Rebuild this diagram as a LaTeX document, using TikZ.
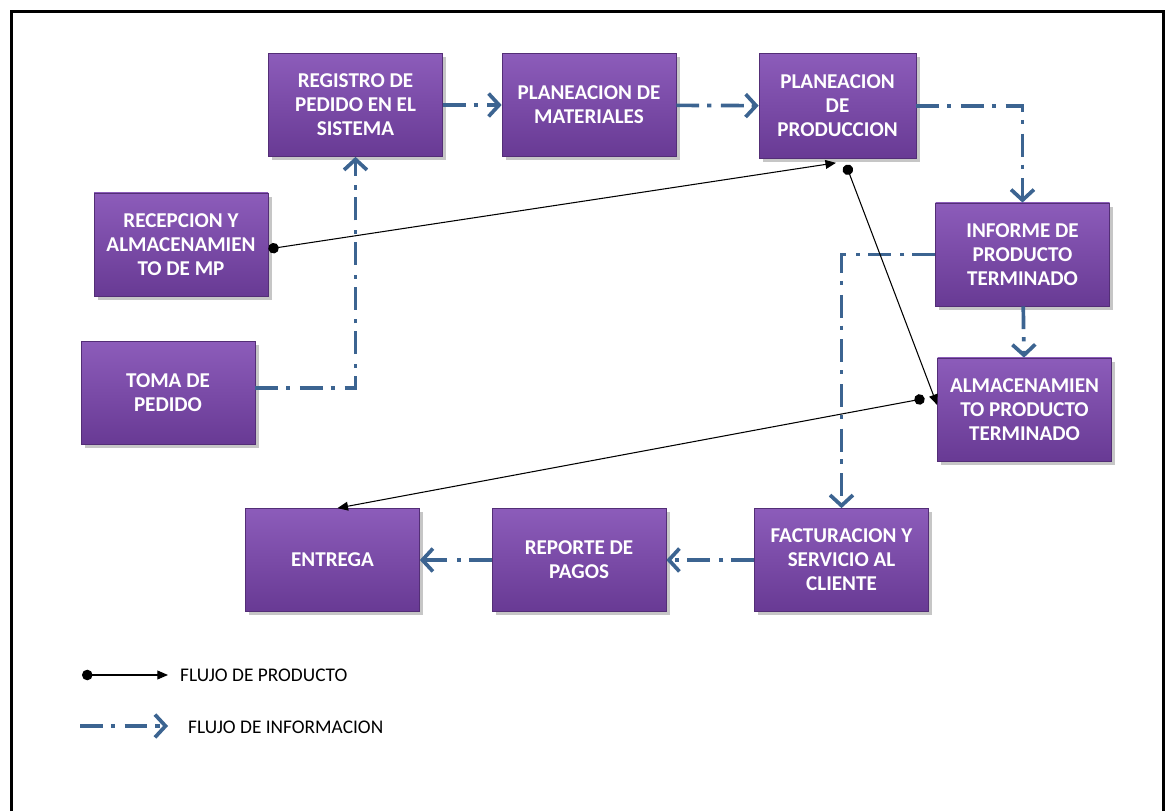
\documentclass[tikz,border=0pt]{standalone}
\usepackage{fontspec}
\setmainfont{Carlito}
\usetikzlibrary{arrows.meta,shadows}

\definecolor{infoblue}{RGB}{60,100,145}
\definecolor{boxtop}{RGB}{140,92,186}
\definecolor{boxbottom}{RGB}{104,58,148}

\begin{document}
\begin{tikzpicture}

      \useasboundingbox (0,0) rectangle (23.32,16.22);
      \draw[line width=1.6pt] (0.23,0) -- (0.23,15.99) -- (23.27,15.99) -- (23.27,0);

      \begin{scope}[every node/.style={rectangle,minimum width=3.48cm,minimum height=2.06cm,
          top color=boxtop,bottom color=boxbottom,draw=boxbottom!80!black,
          drop shadow={shadow xshift=2pt,shadow yshift=-2pt,opacity=0.45},
          text=white,align=center,font=\fontsize{12}{13.7}\selectfont\bfseries}]
        \node (1)  at (7.11,14.12)  {REGISTRO DE\\PEDIDO EN EL\\SISTEMA};
        \node (2)  at (11.78,14.12) {PLANEACION DE\\MATERIALES};
        \node[minimum width=3.14cm,minimum height=2.1cm] (3)  at (16.75,14.10) {PLANEACION\\DE\\PRODUCCION};
        \node (4)  at (3.62,11.33)  {RECEPCION Y\\ALMACENAMIEN\\TO DE MP};
        \node (5)  at (3.36,8.36)   {TOMA DE\\PEDIDO};
        \node (6)  at (20.45,11.13) {INFORME DE\\PRODUCTO\\TERMINADO};
        \node (7)  at (20.49,8.03)  {ALMACENAMIEN\\TO PRODUCTO\\TERMINADO};
        \node (8)  at (16.83,5.02)  {FACTURACION Y\\SERVICIO AL\\CLIENTE};
        \node (9)  at (11.58,5.02)  {REPORTE DE\\PAGOS};
        \node (10) at (6.65,5.02)   {ENTREGA};
      \end{scope}

      % flujo de informacion
      \begin{scope}[every edge/.style={draw,infoblue,line width=2.1pt,
          dash pattern=on 13pt off 4.5pt on 2.4pt off 5.5pt,
          -{Straight Barb[length=6pt,width=13pt]}},
          elbow/.style={to path={-| (\tikztotarget)}}]
        \path (1)  edge (2);
        \path (2)  edge (3);
        \path (3)  edge[elbow] (6);
        \path (6)  edge ([xshift=0.03cm]6.south |- 7.north);
        \path (6)  edge[elbow] (8);
        \path (8)  edge (9);
        \path (9)  edge (10);
        \path ([yshift=0.1cm]5.east) edge[elbow] (1);
      \end{scope}

      % flujo de producto
      \begin{scope}[every edge/.style={draw,black,line width=0.6pt,
          {Circle[length=6pt]}-{Triangle[length=6pt,width=5pt]}}]
        \path ([yshift=-0.09cm]4.east)  edge ([yshift=-0.08cm,xshift=-0.03cm]3.south);
        \path ([yshift=-0.12cm,xshift=0.17cm]3.south) edge ([yshift=0.09cm]7.west);
        \path ([xshift=-0.25cm,yshift=0.22cm]7.west) edge ([xshift=0.1cm]10.north);
      \end{scope}

      % leyenda
      \coordinate (p1) at (1.64,2.72);
      \coordinate (p2) at (3.36,2.72);
      \coordinate (i1) at (1.60,1.70);
      \coordinate (i2) at (3.36,1.70);
      \path (p1) edge[draw,black,line width=0.6pt,{Circle[length=6pt]}-{Triangle[length=6pt,width=5pt]}] (p2);
      \path (i1) edge[draw,infoblue,line width=2.1pt,dash pattern=on 13pt off 4.5pt on 2.4pt off 5.5pt,
          -{Straight Barb[length=6pt,width=13pt]}] (i2);
      \node[anchor=west,font=\fontsize{11}{13}\selectfont] (t1) at (3.48,2.72) {FLUJO DE PRODUCTO};
      \node[anchor=west,font=\fontsize{11}{13}\selectfont] (t2) at (3.64,1.68) {FLUJO DE INFORMACION};

    \end{tikzpicture}
\end{document}
